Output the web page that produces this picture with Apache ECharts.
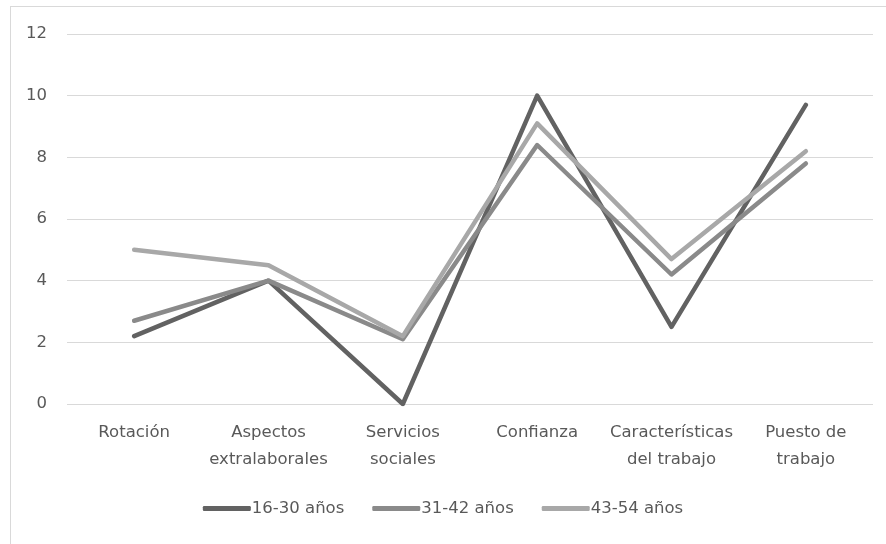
<!DOCTYPE html>
<html>
<head>
<meta charset="utf-8">
<script src="https://cdn.jsdelivr.net/npm/echarts@6/dist/echarts.min.js"></script>
<style>
  html, body { margin: 0; padding: 0; background: #ffffff; }
  #frame { position: absolute; left: 10px; top: 6px; width: 900px; height: 560px;
           border-left: 1px solid #d9d9d9; border-top: 1px solid #d9d9d9; }
  #chart { position: absolute; left: 0; top: 0; width: 886px; height: 544px; }
</style>
</head>
<body>
<div id="frame"></div>
<div id="chart"></div>
<script>
// Categories (x axis) and scores per age group
const categories = [
  'Rotación',
  'Aspectos\nextralaborales',
  'Servicios\nsociales',
  'Confianza',
  'Características\ndel trabajo',
  'Puesto de\ntrabajo'
];
const seriesNames = ['16-30 años', '31-42 años', '43-54 años'];
const values1630 = [2.2, 4.0, 0.0, 10.0, 2.5, 9.7];
const values3142 = [2.7, 4.0, 2.1, 8.4, 4.2, 7.8];
const values4354 = [5.0, 4.5, 2.2, 9.1, 4.7, 8.2];
const yTicks = { min: 0, max: 12, interval: 2 };

const colors = ['#626262', '#8a8a8a', '#a8a8a8'];
const font = 'DejaVu Sans';

const chart = echarts.init(document.getElementById('chart'), null, { renderer: 'canvas' });

function lineSeries(name, data, color) {
  return {
    name: name,
    type: 'line',
    data: data,
    symbol: 'none',
    smooth: false,
    lineStyle: { color: color, width: 4.5, cap: 'round', join: 'round' },
    itemStyle: { color: color },
    emphasis: { disabled: true }
  };
}

chart.setOption({
  animation: false,
  backgroundColor: 'transparent',
  grid: { left: 67, right: 13, top: 34, bottom: 140, containLabel: false },
  xAxis: {
    type: 'category',
    data: categories,
    boundaryGap: true,
    axisLine: { show: false },
    axisTick: { show: false },
    axisLabel: {
      color: '#595959',
      fontFamily: font,
      fontSize: 16.5,
      lineHeight: 27,
      margin: 15,
      interval: 0
    }
  },
  yAxis: {
    type: 'value',
    min: yTicks.min,
    max: yTicks.max,
    interval: yTicks.interval,
    axisLine: { show: false },
    axisTick: { show: false },
    splitLine: { lineStyle: { color: '#d9d9d9', width: 1 } },
    axisLabel: {
      color: '#595959',
      fontFamily: font,
      fontSize: 16.5,
      margin: 20
    }
  },
  legend: {
    data: seriesNames.map(n => ({ name: n, icon: 'roundRect' })),
    bottom: 22,
    left: 'center',
    itemWidth: 48,
    itemHeight: 5,
    itemGap: 28,
    textStyle: { color: '#595959', fontFamily: font, fontSize: 16.5, padding: [0, 0, 0, -4] }
  },
  series: [
    lineSeries(seriesNames[0], values1630, colors[0]),
    lineSeries(seriesNames[1], values3142, colors[1]),
    lineSeries(seriesNames[2], values4354, colors[2])
  ]
});
</script>
</body>
</html>
